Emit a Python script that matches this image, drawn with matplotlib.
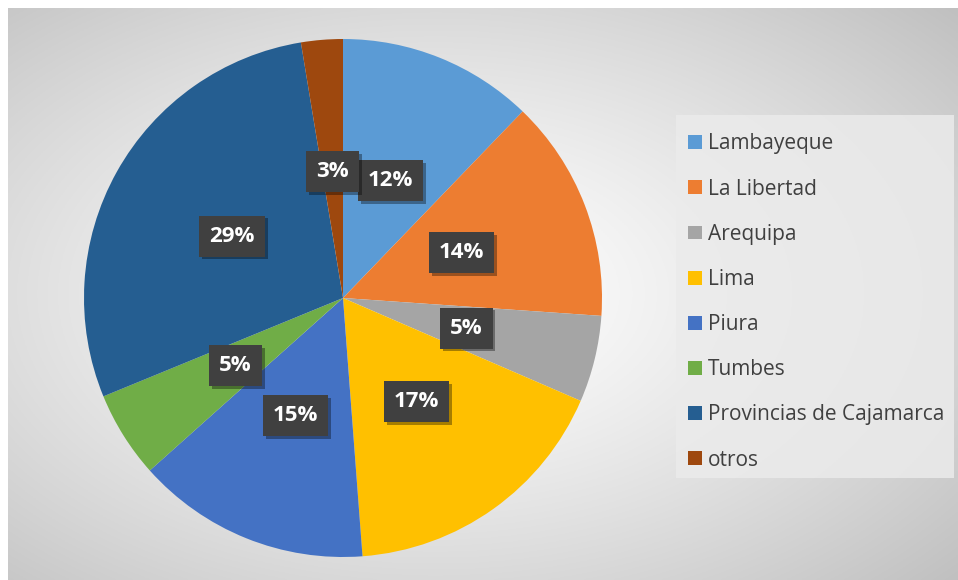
import numpy as np
import matplotlib
matplotlib.use("Agg")
import matplotlib.pyplot as plt
import matplotlib.patheffects as pe
from matplotlib.patches import Rectangle

categories = ["Lambayeque", "La Libertad", "Arequipa", "Lima", "Piura",
              "Tumbes", "Provincias de Cajamarca", "otros"]
values = [12.2, 13.9, 5.4, 17.3, 14.6, 5.4, 28.6, 2.6]
colors = ["#5B9BD5", "#ED7D31", "#A5A5A5", "#FFC000", "#4472C4",
          "#70AD47", "#255E91", "#9E480E"]

W, H = 958, 580
fig = plt.figure(figsize=(W / 100, H / 100), dpi=100)
fig.patch.set_facecolor("white")

# background radial gradient
bg = fig.add_axes([8 / W, 0, 1 - 8 / W, 1 - 8 / H])
bg.set_axis_off()
yy, xx = np.mgrid[0:1:300j, 0:1:500j]
d = np.sqrt(((xx - 0.45) / 0.75) ** 2 + ((yy - 0.5) / 0.75) ** 2)
d = np.clip(d, 0, 1)
g = 1.0 - 0.25 * d ** 1.3
img = np.dstack([g, g, g])
bg.imshow(img, aspect="auto", extent=[0, 1, 0, 1], origin="lower")
bg.set_xlim(0, 1)
bg.set_ylim(0, 1)

# legend background panel
fig.patches.append(Rectangle((676 / W, 1 - 478 / H), (954 - 676) / W, (478 - 115) / H,
                             transform=fig.transFigure, facecolor="#ebebeb",
                             alpha=0.85, edgecolor="none", zorder=1))

# pie
cx, cy, r = 343, 298, 259
ax = fig.add_axes([(cx - r) / W, (H - cy - r) / H, 2 * r / W, 2 * r / H])
wedges, texts, autotexts = ax.pie(
    values, colors=colors, startangle=90, counterclock=False,
    autopct="%.0f%%", pctdistance=0.49, radius=1,
    wedgeprops=dict(linewidth=0),
    textprops=dict(color="white", fontsize=16, fontweight="bold",
                   family="Open Sans"))
ax.set_xlim(-1, 1)
ax.set_ylim(-1, 1)
for t in autotexts:
    t.set_bbox(dict(boxstyle="square,pad=0.45", fc="#404040", ec="none"))
    t.get_bbox_patch().set_path_effects(
        [pe.SimplePatchShadow(offset=(2, -2), shadow_rgbFace="#000000", alpha=0.35), pe.Normal()])

leg = fig.legend(wedges, categories, loc="upper left",
                 bbox_to_anchor=(677 / W, 1 - 122 / H),
                 frameon=False,
                 prop=dict(family="Open Sans", size=15),
                 labelcolor="#404040", labelspacing=1.16,
                 handlelength=0.65, handleheight=0.65, handletextpad=0.3,
                 borderpad=0.55, borderaxespad=0)

fig.savefig("out.png", dpi=100)
